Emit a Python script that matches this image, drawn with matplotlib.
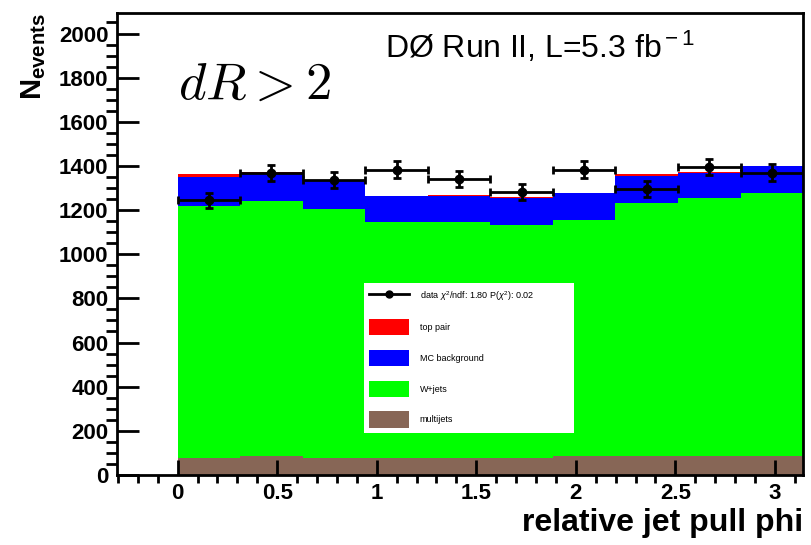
import numpy as np
import matplotlib
matplotlib.use('Agg')
from matplotlib import pyplot as plt
from matplotlib.lines import Line2D
from matplotlib.patches import Patch

plt.rcParams['font.family'] = ['Liberation Sans', 'DejaVu Sans']
plt.rcParams['mathtext.fontset'] = 'custom'
plt.rcParams['mathtext.rm'] = 'Liberation Sans'
plt.rcParams['mathtext.bf'] = 'Liberation Sans:bold'
plt.rcParams['mathtext.it'] = 'Liberation Sans:italic'

# histogram content, 10 bins in relative jet pull phi (0..pi)
n_bins = 10
multijets = [75, 88, 75, 75, 75, 75, 87, 87, 87, 87]
wjets = [1142, 1153, 1132, 1071, 1071, 1059, 1070, 1145, 1168, 1192]
mc_background = [133, 128, 126, 116, 119, 123, 120, 121, 115, 119]
top_pair = [12, 2, 2, 2, 2, 2, 2, 12, 2, 2]
data = [1244, 1368, 1335, 1383, 1339, 1282, 1383, 1297, 1395, 1370]

legend_labels = ['data $\\chi^2$/ndf: 1.80 P($\\chi^2$): 0.02', 'top pair',
                 'MC background', 'W+jets', 'multijets']
colors = {'multijets': '#876656', 'wjets': '#00ff00',
          'mc': '#0000ff', 'top': '#ff0000'}

edges = np.linspace(0, np.pi, n_bins + 1)
centers = 0.5 * (edges[1:] + edges[:-1])
width = edges[1] - edges[0]

fig = plt.figure(figsize=(8.12, 5.45), dpi=100)
ax = fig.add_axes([0.144, 0.1285, 0.845, 0.8485])

stack = [(multijets, colors['multijets']), (wjets, colors['wjets']),
         (mc_background, colors['mc']), (top_pair, colors['top'])]
bottom = np.zeros(n_bins)
for vals, c in stack:
    top = bottom + np.array(vals)
    ax.stairs(top, edges, baseline=bottom, fill=True, color=c, lw=0)
    bottom = top

data = np.array(data)
ax.errorbar(centers, data, xerr=width / 2, yerr=np.sqrt(data), fmt='o',
            color='black', ms=6, lw=2, capsize=3, capthick=2, zorder=5)

ax.set_xlim(-0.305, np.pi)
ax.set_ylim(0, 2095)
ax.set_xticks([0, 0.5, 1, 1.5, 2, 2.5, 3])
ax.set_xticklabels(['0', '0.5', '1', '1.5', '2', '2.5', '3'])
ax.set_xticks(np.arange(-0.3, 3.15, 0.1), minor=True)
ax.set_yticks(np.arange(0, 2001, 200))
ax.set_yticks(np.arange(0, 2051, 50), minor=True)
ax.tick_params(axis='both', direction='in', labelsize=16, width=2, colors='black')
ax.tick_params(axis='y', which='major', length=16, pad=6)
ax.tick_params(axis='y', which='minor', length=8, width=2)
ax.tick_params(axis='x', which='major', length=11, pad=6)
ax.tick_params(axis='x', which='minor', length=5.5, width=2)
for lab in ax.get_xticklabels() + ax.get_yticklabels():
    lab.set_fontweight('bold')
for s in ax.spines.values():
    s.set_linewidth(2)

ax.set_xlabel('relative jet pull phi', fontsize=23, fontweight='bold', loc='right')
ax.xaxis.set_label_coords(1.0, -0.072)
ax.set_ylabel(r'$\mathbf{N_{events}}$', fontsize=21, loc='top')
ax.yaxis.set_label_coords(-0.10, 1.0)

ax.text(0.089, 0.843, r'$dR > 2$', transform=ax.transAxes, fontsize=38,
        va='center', ha='left', math_fontfamily='cm')
ax.text(0.39, 0.925, r'DØ Run II, L=5.3 fb$^{\rm -1}$', transform=ax.transAxes,
        fontsize=23, va='center', ha='left')

handles = [Line2D([], [], color='black', marker='o', ms=5, lw=2),
           Patch(facecolor=colors['top']), Patch(facecolor=colors['mc']),
           Patch(facecolor=colors['wjets']), Patch(facecolor=colors['multijets'])]
leg = ax.legend(handles, legend_labels, loc='upper left',
                bbox_to_anchor=(0.353, 0.425, 0.319, 0.0), mode='expand',
                fontsize=6.5, handlelength=4.4, handleheight=2.4, labelspacing=1.6,
                frameon=True, fancybox=False, edgecolor='none', facecolor='white',
                framealpha=1, borderpad=0.6, handletextpad=1.2)

fig.savefig('out.png', dpi=100)
